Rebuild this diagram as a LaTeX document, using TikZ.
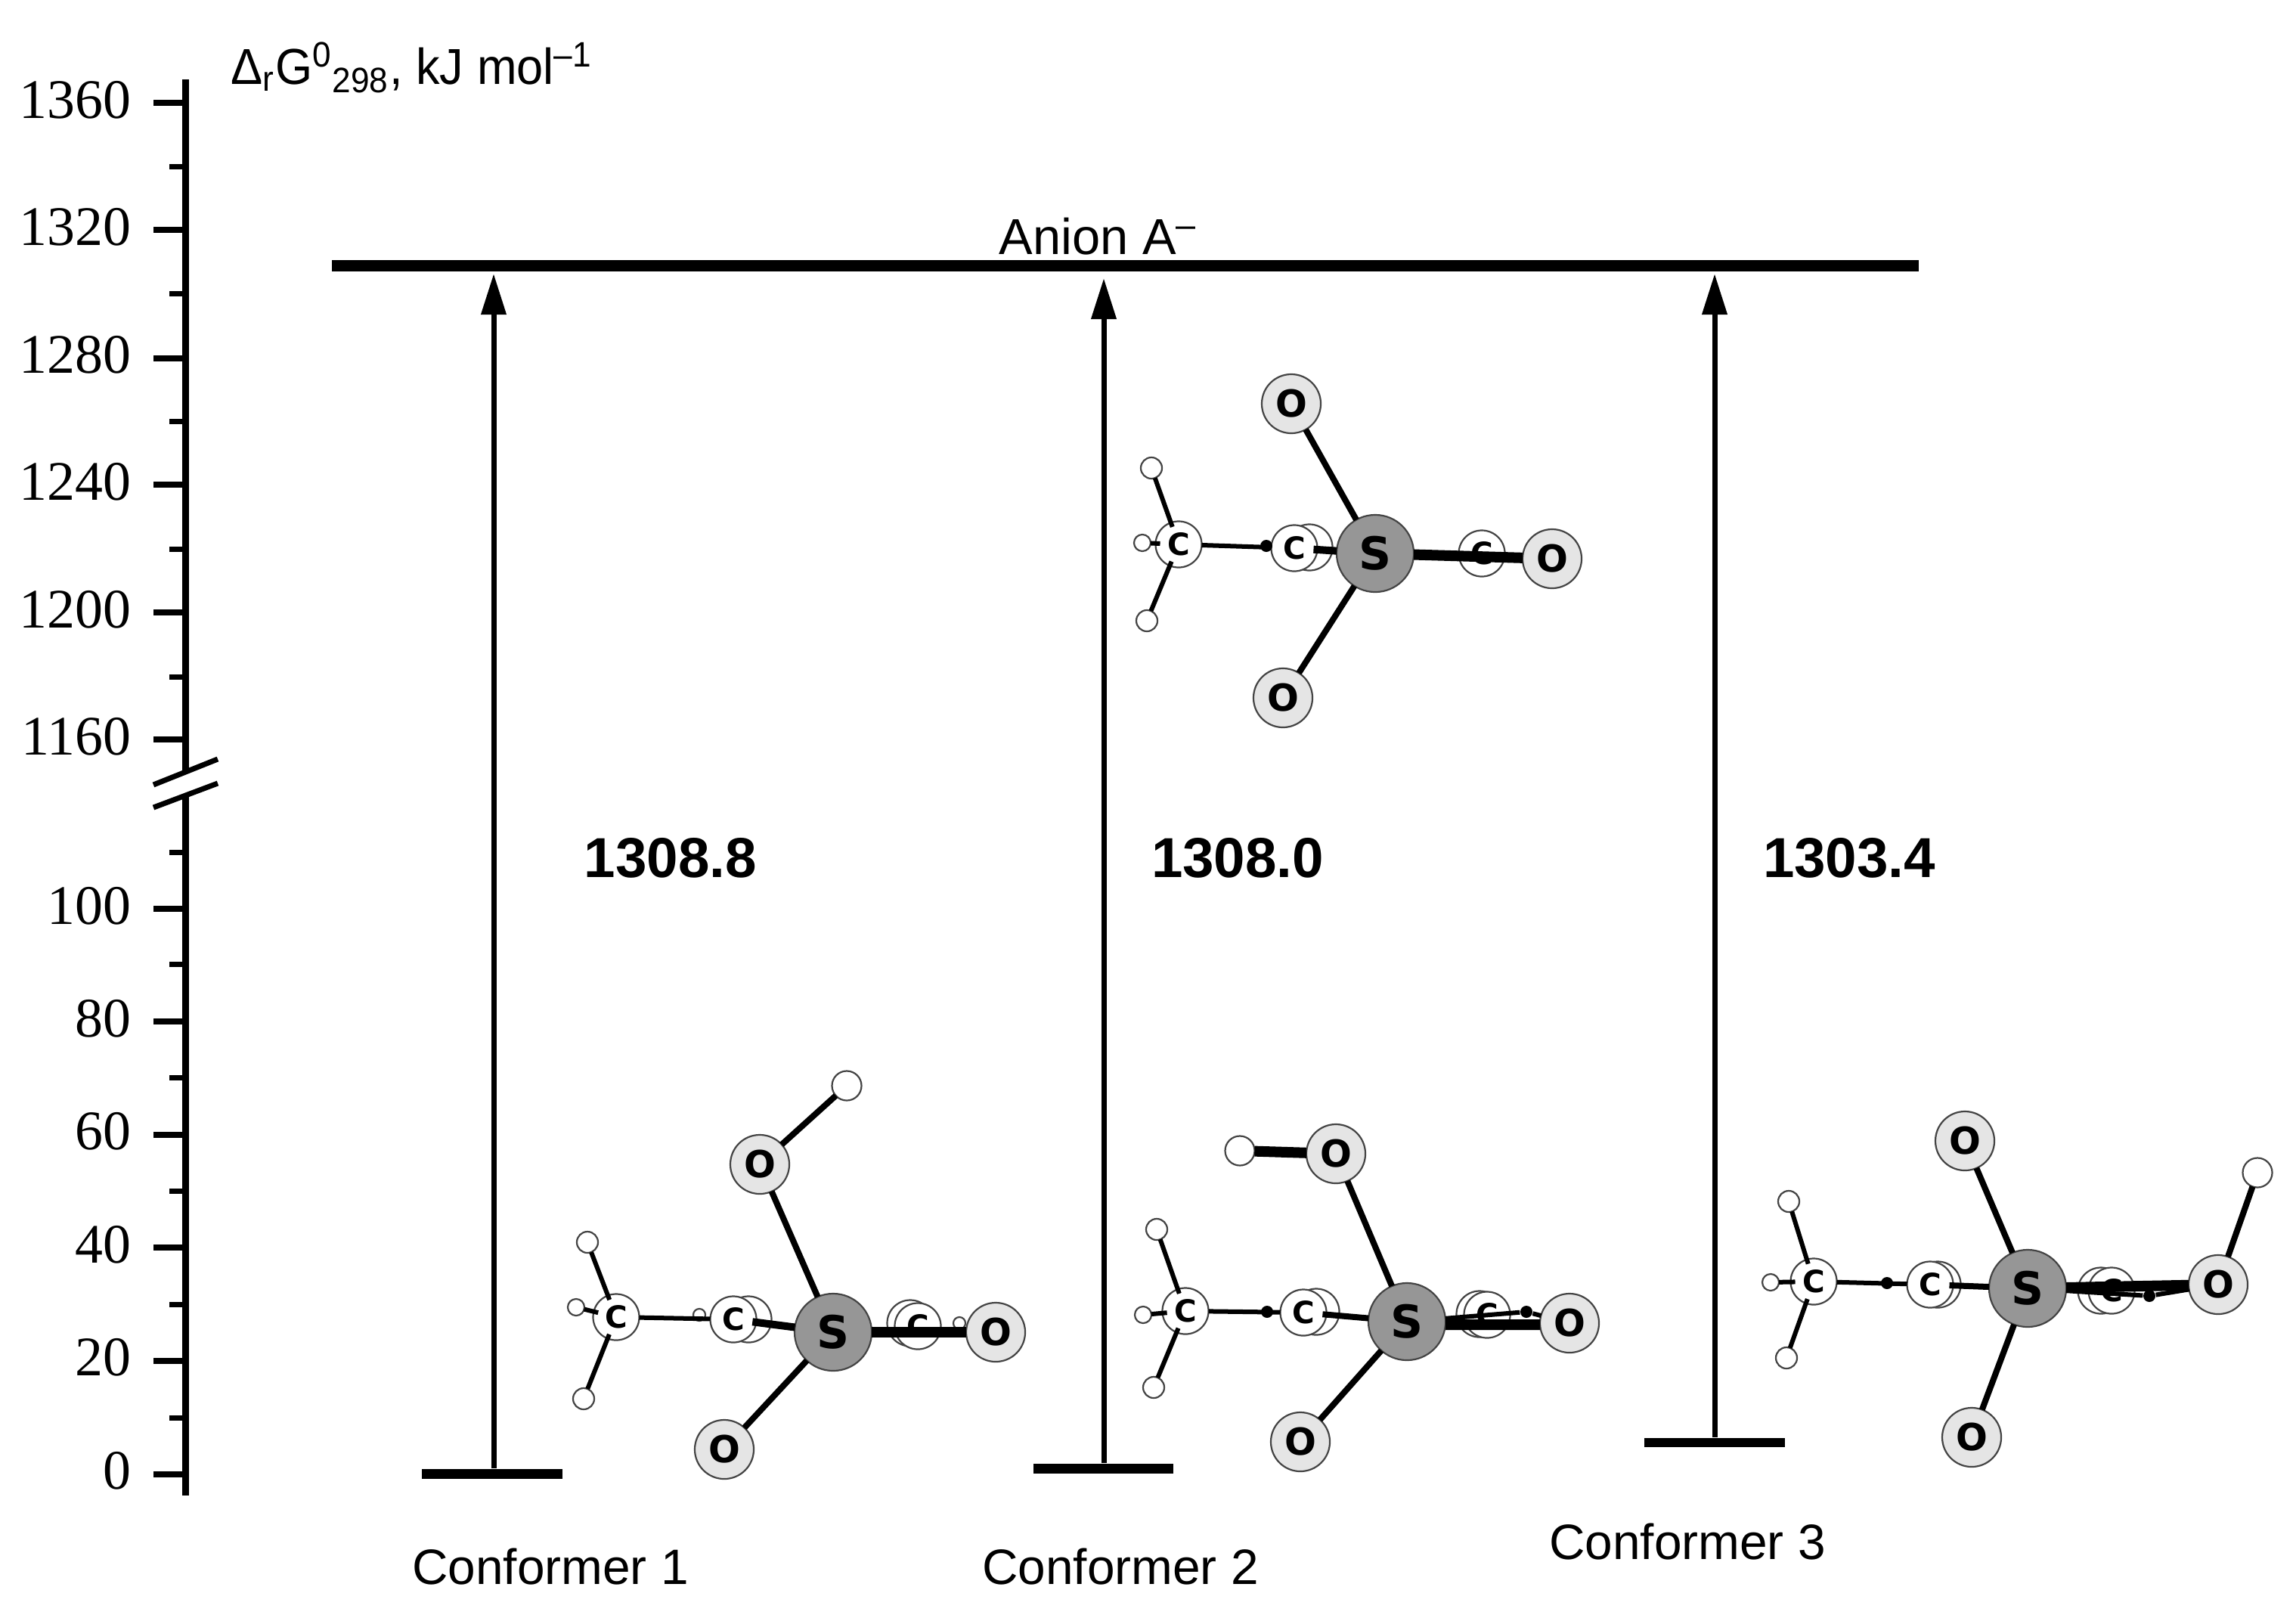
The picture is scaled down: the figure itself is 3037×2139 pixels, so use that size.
\documentclass[tikz,border=0pt]{standalone}
\usepackage{fontspec}
\setmainfont{Liberation Sans}
\newfontfamily\tickfont{Liberation Serif}
\newfontfamily\atomfont{DejaVu Sans}
\newfontfamily\titlefont[FakeStretch=0.945]{Liberation Sans}
\usetikzlibrary{arrows.meta}
\definecolor{sulfur}{HTML}{969696}
\definecolor{oxygen}{HTML}{E5E5E5}
\definecolor{rim}{HTML}{444444}
\tikzset{
  axisline/.style={line width=0.087cm},
  majortick/.style={line width=0.075cm},
  minortick/.style={line width=0.07cm},
  breakmark/.style={line width=0.07cm},
  ticklabel/.style={anchor=east,inner sep=0pt,font=\tickfont\fontsize{21}{25}\selectfont},
  energybar/.style={fill=black,inner sep=0pt,minimum height=0.127cm,minimum width=1.85cm},
  anionbar/.style={fill=black,inner sep=0pt,minimum height=0.155cm,minimum width=20.97cm},
  uparrow/.style={line width=0.07cm,-{Triangle[length=0.54cm,width=0.32cm]}},
  caption/.style={anchor=base,inner sep=0pt,font=\fontsize{18.7}{22}\selectfont},
  value/.style={anchor=base,inner sep=0pt,font=\bfseries\fontsize{21.2}{25}\selectfont},
  atom/.style={circle,draw=rim,line width=0.022cm,inner sep=0pt,outer sep=0pt},
  satom/.style={atom,fill=sulfur,minimum size=1.02cm,font=\atomfont\bfseries\fontsize{17}{20}\selectfont},
  oatom/.style={atom,fill=oxygen,minimum size=0.78cm,font=\atomfont\bfseries\fontsize{14}{16}\selectfont},
  catom/.style={atom,fill=white,minimum size=0.61cm,font=\atomfont\bfseries\fontsize{11.5}{13}\selectfont},
  hatom/.style={atom,fill=white,minimum size=0.28cm},
  hsmall/.style={atom,fill=white,minimum size=0.22cm},
  htiny/.style={atom,fill=white,minimum size=0.16cm},
  hdot/.style={circle,fill=black,inner sep=0pt,minimum size=0.16cm},
  hhydroxy/.style={atom,fill=white,minimum size=0.39cm},
  bondcc/.style={line width=0.06cm},
  bondch/.style={line width=0.06cm,shorten <=-0.06cm},
  bondso/.style={line width=0.08cm},
  bondcs/.style={line width=0.1cm,shorten <=-0.05cm},
  bondfat/.style={line width=0.14cm},
}
\begin{document}
\begin{tikzpicture}[x=0.01cm,y=-0.01cm]
  \useasboundingbox (0,0) rectangle (3037,2139);

  \draw[axisline] (245.5,105) -- (245.5,1021);
  \draw[axisline] (245.5,1052) -- (245.5,1978);
  \draw[breakmark] (203,1038) -- (288,1004);
  \draw[breakmark] (203,1068) -- (288,1036);

  \draw[majortick] (203,136) -- (245,136);
  \draw[minortick] (224,220) -- (245,220);
  \draw[majortick] (203,304) -- (245,304);
  \draw[minortick] (224,388) -- (245,388);
  \draw[majortick] (203,474) -- (245,474);
  \draw[minortick] (224,557) -- (245,557);
  \draw[majortick] (203,641) -- (245,641);
  \draw[minortick] (224,726) -- (245,726);
  \draw[majortick] (203,810) -- (245,810);
  \draw[minortick] (224,895) -- (245,895);
  \draw[majortick] (203,978) -- (245,978);

  \draw[minortick] (224,1127) -- (245,1127);
  \draw[majortick] (203,1202) -- (245,1202);
  \draw[minortick] (224,1275) -- (245,1275);
  \draw[majortick] (203,1351) -- (245,1351);
  \draw[minortick] (224,1425) -- (245,1425);
  \draw[majortick] (203,1501) -- (245,1501);
  \draw[minortick] (224,1575) -- (245,1575);
  \draw[majortick] (203,1650) -- (245,1650);
  \draw[minortick] (224,1725) -- (245,1725);
  \draw[majortick] (203,1800) -- (245,1800);
  \draw[minortick] (224,1875) -- (245,1875);
  \draw[majortick] (203,1950) -- (245,1950);

  \node[ticklabel] (t1360) at (174,132) {1360};
  \node[ticklabel] (t1320) at (174,300) {1320};
  \node[ticklabel] (t1280) at (174,469) {1280};
  \node[ticklabel] (t1240) at (174,637) {1240};
  \node[ticklabel] (t1200) at (174,806) {1200};
  \node[ticklabel] (t1160) at (174,974) {1160};
  \node[ticklabel] (t100) at (174,1198) {100};
  \node[ticklabel] (t80) at (174,1347) {80};
  \node[ticklabel] (t60) at (174,1496) {60};
  \node[ticklabel] (t40) at (174,1646) {40};
  \node[ticklabel] (t20) at (174,1795) {20};
  \node[ticklabel] (t0) at (174,1945) {0};

  \node[anchor=base west,inner sep=0pt,font=\titlefont\fontsize{19}{23}\selectfont] (axistitle) at (305,111)
    {Δ\textsubscript{r}G\textsuperscript{0}\textsubscript{298}, kJ mol\textsuperscript{–1}};

  \node[anionbar] (anion) at (1488.5,351.5) {};
  \node[anchor=base west,inner sep=0pt,font=\fontsize{19}{23}\selectfont] (anionlabel) at (1321,336) {Anion A\textsuperscript{–}};

  \node[energybar] (level1) at (651,1949.5) {};
  \node[energybar] (level2) at (1459.5,1942.5) {};
  \node[energybar] (level3) at (2268,1908) {};

  \coordinate (tip1) at (653,362);
  \coordinate (tip2) at (1460,368);
  \coordinate (tip3) at (2268,362);
  \draw[uparrow] (level1.north -| tip1) -- (tip1);
  \draw[uparrow] (level2.north -| tip2) -- (tip2);
  \draw[uparrow] (level3.north -| tip3) -- (tip3);

  \node[value] (value1) at (887,1160) {1308.8};
  \node[value] (value2) at (1637,1160) {1308.0};
  \node[value] (value3) at (2446,1160) {1303.4};

  \node[caption] (conf1) at (728,2095) {Conformer 1};
  \node[caption] (conf2) at (1482,2095) {Conformer 2};
  \node[caption] (conf3) at (2232,2062) {Conformer 3};

  \node[catom] (AC3) at (1732,724) {};
  \node[catom] (AC4) at (1960,732) {C};
  \node[catom] (AC1) at (1559,720) {C};
  \node[catom] (AC2) at (1712,725) {C};
  \node[satom] (AS) at (1819,732) {S};
  \node[oatom] (AO1) at (1708,534) {O};
  \node[oatom] (AO2) at (2053,739) {O};
  \node[oatom] (AO3) at (1697,923) {O};
  \node[hatom] (AH1) at (1523,619) {};
  \node[hatom] (AH2) at (1517,821) {};
  \node[hsmall] (AH3) at (1511,718) {};
  \node[hdot] (AH4) at (1675,722) {};
  \draw[bondch] (AC1) -- (AH1);
  \draw[bondch] (AC1) -- (AH2);
  \draw[bondch] (AC1) -- (AH3);
  \draw[bondcc] (AC1) -- (AC2);
  \draw[bondcs] (AC2) -- (AS);
  \draw[bondso] (AS) -- (AO1);
  \draw[bondso] (AS) -- (AO3);
  \draw[bondfat] (AS) -- (AO2);

  \node[catom] (PC3) at (990,1745) {};
  \node[catom] (PC5) at (1204,1750) {};
  \node[catom] (PC4) at (1214,1754) {C};
  \node[catom] (PC1) at (815,1742) {C};
  \node[catom] (PC2) at (970,1745) {C};
  \node[satom] (PS) at (1102,1762) {S};
  \node[oatom] (PO1) at (1005,1540) {O};
  \node[oatom] (PO2) at (1317,1762) {O};
  \node[oatom] (PO3) at (958,1917) {O};
  \node[hhydroxy] (PH5) at (1120,1436) {};
  \node[hatom] (PH1) at (777,1643) {};
  \node[hatom] (PH2) at (772,1850) {};
  \node[hsmall] (PH3) at (762,1729) {};
  \node[htiny] (PH4) at (925,1739) {};
  \node[htiny] (PH6) at (1269,1750) {};
  \draw[bondch] (PC1) -- (PH1);
  \draw[bondch] (PC1) -- (PH2);
  \draw[bondch] (PC1) -- (PH3);
  \draw[bondcc] (PC1) -- (PC2);
  \draw[bondcs] (PC2) -- (PS);
  \draw[bondso] (PS) -- (PO1);
  \draw[bondso] (PS) -- (PO3);
  \draw[bondso] (PO1) -- (PH5);
  \draw[bondfat] (PS) -- (PO2);

  \node[catom] (QC3) at (1741,1735) {};
  \node[catom] (QC5) at (1957,1738) {};
  \node[catom] (QC4) at (1967,1739) {C};
  \node[catom] (QC1) at (1568,1734) {C};
  \node[catom] (QC2) at (1724,1736) {C};
  \node[satom] (QS) at (1861,1748) {S};
  \node[oatom] (QO1) at (1767,1526) {O};
  \node[oatom] (QO2) at (2076,1750) {O};
  \node[oatom] (QO3) at (1720,1907) {O};
  \node[hhydroxy] (QH5) at (1640,1522) {};
  \node[hatom] (QH1) at (1530,1626) {};
  \node[hatom] (QH2) at (1526,1835) {};
  \node[hsmall] (QH3) at (1512,1739) {};
  \node[hdot] (QH4) at (1676,1735) {};
  \node[hdot] (QH6) at (2019,1735) {};
  \draw[bondch] (QC1) -- (QH1);
  \draw[bondch] (QC1) -- (QH2);
  \draw[bondch] (QC1) -- (QH3);
  \draw[bondcc] (QC1) -- (QC2);
  \draw[bondso,shorten <=-0.05cm] (QC2) -- (QS);
  \draw[bondso] (QS) -- (QO1);
  \draw[bondso] (QS) -- (QO3);
  \draw[bondfat] (QO1) -- (QH5);
  \draw[bondcc] (QS) -- (QH6);
  \draw[bondcc] (QH6) -- (QO2);
  \draw[bondfat] ([yshift=-0.04cm]QS.east) -- ([yshift=-0.02cm]QO2.west);

  \node[catom] (RC3) at (2563,1699) {};
  \node[catom] (RC5) at (2779,1707) {};
  \node[catom] (RC4) at (2793,1707) {C};
  \node[catom] (RC1) at (2399,1695) {C};
  \node[catom] (RC2) at (2553,1699) {C};
  \node[satom] (RS) at (2682,1704) {S};
  \node[oatom] (RO1) at (2599,1509) {O};
  \node[oatom] (RO2) at (2934,1699) {O};
  \node[oatom] (RO3) at (2608,1901) {O};
  \node[hhydroxy] (RH5) at (2986,1551) {};
  \node[hatom] (RH1) at (2366,1589) {};
  \node[hatom] (RH2) at (2363,1796) {};
  \node[hsmall] (RH3) at (2342,1696) {};
  \node[hdot] (RH4) at (2496,1697) {};
  \node[hdot] (RH6) at (2843,1714) {};
  \draw[bondch] (RC1) -- (RH1);
  \draw[bondch] (RC1) -- (RH2);
  \draw[bondch] (RC1) -- (RH3);
  \draw[bondcc] (RC1) -- (RC2);
  \draw[bondso,shorten <=-0.05cm] (RC2) -- (RS);
  \draw[bondso] (RS) -- (RO1);
  \draw[bondso] (RS) -- (RO3);
  \draw[bondso] (RO2) -- (RH5);
  \draw[bondcc] (RS) -- (RH6);
  \draw[bondcc] (RH6) -- (RO2);
  \draw[bondfat] (RS) -- (RO2);
\end{tikzpicture}
\end{document}
